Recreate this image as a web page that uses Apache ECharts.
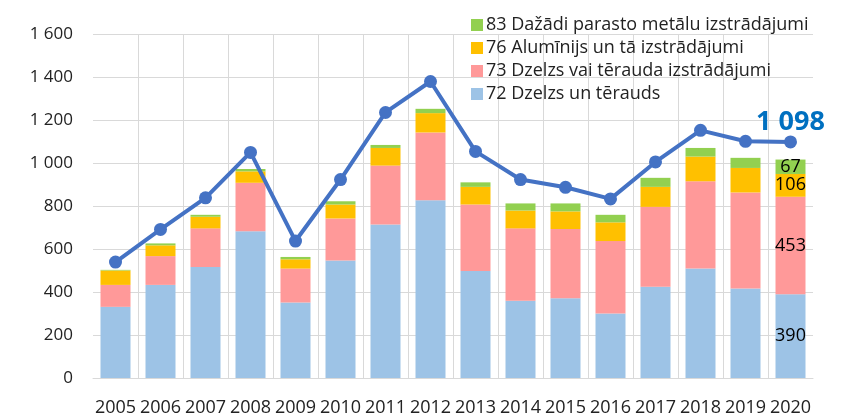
<!DOCTYPE html>
<html>
<head>
<meta charset="utf-8">
<script src="https://cdn.jsdelivr.net/npm/echarts@6/dist/echarts.min.js"></script>
<style>
  html, body { margin: 0; padding: 0; background: #fff; }
  #main { width: 854px; height: 417px; }
</style>
</head>
<body>
<div id="main"></div>
<script>
// dati
const years = ["2005", "2006", "2007", "2008", "2009", "2010", "2011", "2012",
  "2013", "2014", "2015", "2016", "2017", "2018", "2019", "2020"];
const s72 = [331, 433, 516, 683, 351, 547, 714, 827, 498, 359, 371, 300, 425, 509, 416, 390];
const s73 = [102, 134, 180, 225, 158, 195, 274, 315, 309, 337, 322, 337, 371, 406, 447, 453];
const s76 = [67, 50, 54, 53, 43, 65, 82, 90, 82, 83, 82, 87, 93, 115, 114, 106];
const s83 = [3, 9, 9, 11, 11, 15, 14, 20, 21, 33, 37, 35, 42, 40, 47, 67];
const total = [539, 691, 838, 1049, 637, 923, 1235, 1379, 1054, 923, 887, 833, 1005, 1152, 1101, 1098];
const names = {
  s72: "72 Dzelzs un tērauds",
  s73: "73 Dzelzs vai tērauda izstrādājumi",
  s76: "76 Alumīnijs un tā izstrādājumi",
  s83: "83 Dažādi parasto metālu izstrādājumi"
};

const FONT = "Open Sans";
const fmt = (v) => String(v).replace(/\B(?=(\d{3})+(?!\d))/g, " ");

// tikai pēdējam stabiņam vērtības
const withLastLabel = (arr) => arr.map((v, i) => i === arr.length - 1
  ? { value: v, label: { show: true } }
  : v);

const barLabel = {
  show: false,
  position: "inside",
  color: "#000",
  fontFamily: FONT,
  fontSize: 18
};

const myChart = echarts.init(document.getElementById("main"));

const option = {
  animation: false,
  legend: {
    orient: "vertical",
    left: 466,
    top: 11,
    itemWidth: 12,
    itemHeight: 12,
    itemGap: 5,
    icon: "rect",
    data: [names.s83, names.s76, names.s73, names.s72],
    textStyle: { fontFamily: FONT, fontSize: 18, color: "#222", padding: [0, 0, 0, -2] }
  },
  grid: { left: 93, right: 41, top: 34, bottom: 38, containLabel: false },
  xAxis: {
    type: "category",
    data: years,
    axisTick: { show: false },
    axisLine: { lineStyle: { color: "#d9d9d9", width: 1 } },
    axisLabel: { fontFamily: FONT, fontSize: 18, color: "#222", margin: 21, interval: 0 },
    splitLine: { show: true, showMinLine: false, showMaxLine: false, lineStyle: { color: "#d9d9d9" } }
  },
  yAxis: {
    type: "value",
    min: 0,
    max: 1600,
    interval: 200,
    axisLine: { show: false },
    axisTick: { show: false },
    axisLabel: { fontFamily: FONT, fontSize: 17, color: "#222", margin: 20, formatter: fmt },
    splitLine: { lineStyle: { color: "#d9d9d9" } }
  },
  series: [
    {
      name: names.s72, type: "bar", stack: "t", barWidth: 30,
      itemStyle: { color: "#9dc3e6" }, label: barLabel, data: withLastLabel(s72)
    },
    {
      name: names.s73, type: "bar", stack: "t",
      itemStyle: { color: "#ff9999" }, label: barLabel, data: withLastLabel(s73)
    },
    {
      name: names.s76, type: "bar", stack: "t",
      itemStyle: { color: "#ffc000" }, label: barLabel, data: withLastLabel(s76)
    },
    {
      name: names.s83, type: "bar", stack: "t",
      itemStyle: { color: "#92d050" }, label: barLabel, data: withLastLabel(s83)
    },
    {
      name: "Kopā", type: "line",
      symbol: "circle", symbolSize: 13,
      lineStyle: { color: "#4472c4", width: 4 },
      itemStyle: { color: "#4472c4" },
      label: {
        show: false, position: "top", distance: 0,
        fontFamily: FONT, fontSize: 27, fontWeight: "bold", color: "#0070c0",
        formatter: (p) => fmt(p.value)
      },
      data: total.map((v, i) => i === total.length - 1 ? { value: v, label: { show: true } } : v)
    }
  ]
};

option && myChart.setOption(option);
</script>
</body>
</html>
